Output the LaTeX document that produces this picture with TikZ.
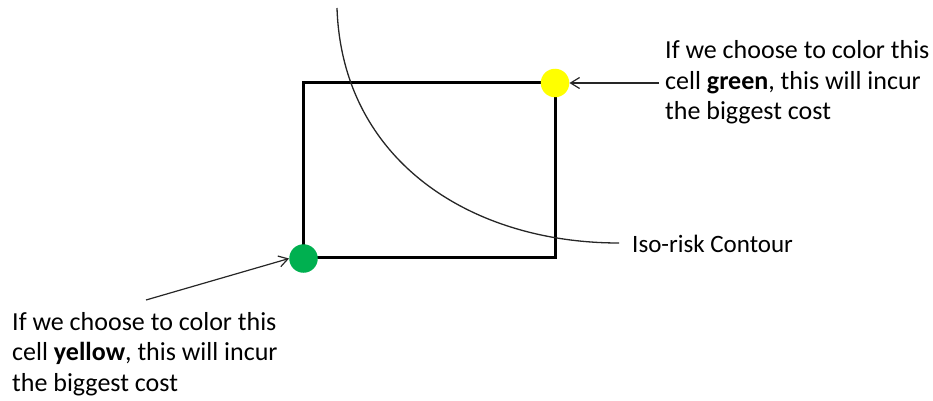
\documentclass[tikz,border=0pt]{standalone}
\usepackage{fontspec}
\setmainfont{Carlito}
\usetikzlibrary{arrows.meta}
\definecolor{cellgreen}{HTML}{00B050}
\definecolor{cellyellow}{HTML}{FFFF00}
\tikzset{
  lbl/.style={inner sep=0pt, align=left, font=\fontsize{26}{30.5}\selectfont},
  callout/.style={line width=1.2pt, draw=black!85, -{Straight Barb[length=9pt,width=11pt,line width=1.2pt]}},
  dot/.style={circle, minimum size=28.5pt, inner sep=0pt},
}
\begin{document}
\begin{tikzpicture}[x=1pt,y=-1pt]
\useasboundingbox (0,0) rectangle (933,401);
% rectangle
\draw[line width=3pt] (303,83) rectangle (555,257.5);
% iso-risk contour
\coordinate (ctop) at (337,8);
\coordinate (cend) at (619,243);
\draw[line width=1.3pt, black!85] (ctop) .. controls (342,160) and (470,243) .. (cend);
% dots
\node[dot, fill=cellyellow] (ydot) at (555,83) {};
\node[dot, fill=cellgreen] (gdot) at (303.5,258.5) {};
% labels (base anchor = baseline of last line)
\node[lbl, anchor=base west] (gtext) at (665,120) {If we choose to color this\\cell \textbf{green}, this will incur\\the biggest cost};
\node[lbl, anchor=base west] (ytext) at (12,391) {If we choose to color this\\cell \textbf{yellow}, this will incur\\the biggest cost};
\node[lbl, anchor=base west, font=\fontsize{25}{30}\selectfont] (iso) at (632,252) {Iso-risk Contour};
% callouts
\coordinate (gstart) at (659,83);
\coordinate (ystart) at (146,300);
\draw[callout] (gstart) -- (ydot.east);
\draw[callout] (ystart) -- (gdot.west);
\end{tikzpicture}
\end{document}
